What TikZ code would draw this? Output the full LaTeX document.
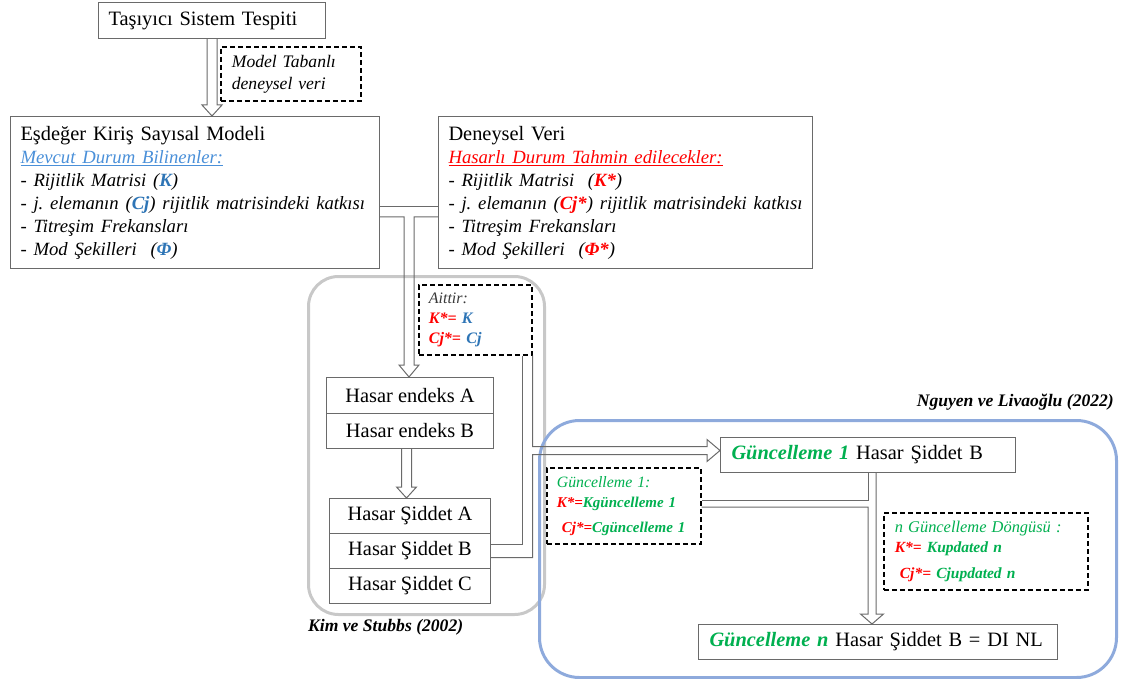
\documentclass[tikz,border=0pt]{standalone}
\usepackage{fontspec}
\setmainfont{Liberation Serif}
\usetikzlibrary{calc}
\frenchspacing

\definecolor{kblue}{HTML}{2E75B6}
\definecolor{hblue}{HTML}{4A90D9}
\definecolor{kred}{HTML}{FF0000}
\definecolor{kgreen}{HTML}{00B050}
\definecolor{edgegray}{HTML}{6A6A6A}
\definecolor{darktext}{HTML}{3A3A3A}
\definecolor{grpgray}{HTML}{C8C8C8}
\definecolor{grpblue}{HTML}{8EAADC}

\newcommand{\fsz}[2]{\fontsize{#1}{#2}\selectfont}
\newcommand{\bluebf}[1]{\textbf{\textit{\textcolor{kblue}{#1}}}}
\newcommand{\redbf}[1]{\textbf{\textit{\textcolor{kred}{#1}}}}
\newcommand{\greenbf}[1]{\textbf{\textit{\textcolor{kgreen}{#1}}}}

\tikzset{
  box/.style={draw=edgegray, line width=1pt, fill=white, inner ysep=0pt,
    anchor=north west, align=left, font=\fsz{20.4}{23}},
  note/.style={draw=black, line width=1.7pt, dash pattern=on 5pt off 3pt,
    fill=white, inner ysep=0pt, anchor=north west, align=left},
  pipe/.style={draw=edgegray, line width=1pt},
  grp/.style={line width=3pt, anchor=north west, inner sep=0pt},
  tag/.style={inner sep=0pt, font=\bfseries\itshape\fsz{17.6}{20}}
}

\begin{document}
\begin{tikzpicture}[x=1pt,y=-1pt]
\useasboundingbox (0,0) rectangle (1127,679);

% group frames
\node[grp, draw=grpgray, rounded corners=30pt, minimum width=236, minimum height=338] (kimgrp) at (307,275) {};
\node[grp, draw=grpblue, rounded corners=40pt, minimum width=577, minimum height=257] (nlgrp) at (538,419) {};

% boxes
\node[box, minimum height=36, text width=207, inner xsep=10] (tss) at (98,2) {Taşıyıcı Sistem Tespiti};

\node[note, minimum height=54, text width=118, inner xsep=11, font=\itshape\fsz{17.6}{22}] (model) at (220,46) {Model Tabanlı\\deneysel veri};

\node[box, minimum height=152, text width=349, inner xsep=10] (esd) at (10,116) {%
  \fsz{20.4}{23}Eşdeğer Kiriş Sayısal Modeli\\
  \fsz{18.7}{23}\textcolor{hblue}{\itshape\underline{Mevcut Durum Bilinenler:}}\\
  \textit{- Rijitlik Matrisi (\bluebf{K})}\\
  \mbox{\textit{- j. elemanın (\bluebf{Cj}) rijitlik matrisindeki katkısı}}\\
  \textit{- Titreşim Frekansları}\\
  \textit{- Mod Şekilleri~~(\bluebf{Φ})}};

\node[box, minimum height=152, text width=354, inner xsep=10] (den) at (438,116) {%
  \fsz{20.4}{23}Deneysel Veri\\
  \fsz{18.7}{23}\textcolor{kred}{\itshape\underline{Hasarlı Durum Tahmin edilecekler:}}\\
  \textit{- Rijitlik Matrisi~~(\redbf{K*})}\\
  \mbox{\textit{- j. elemanın (\redbf{Cj*}) rijitlik matrisindeki katkısı}}\\
  \textit{- Titreşim Frekansları}\\
  \textit{- Mod Şekilleri~~(\redbf{Φ*})}};

\node[note, minimum height=70, text width=93, inner xsep=10, font=\fsz{16}{20}] (aittir) at (418,284) {%
  \textcolor{darktext}{\itshape Aittir:}\\
  \redbf{K*=} \bluebf{K}\\
  \redbf{Cj*=} \bluebf{Cj}};

\node[box, minimum width=167, minimum height=36] (endA) at (326,377) {Hasar endeks A};
\node[box, minimum width=167, minimum height=35] (endB) at (326,413) {Hasar endeks B};

\node[box, minimum width=161, minimum height=35] (sidA) at (329,498) {Hasar Şiddet A};
\node[box, minimum width=161, minimum height=35] (sidB) at (329,533) {Hasar Şiddet B};
\node[box, minimum width=161, minimum height=35] (sidC) at (329,568) {Hasar Şiddet C};

\node[box, minimum height=35, text width=273, inner xsep=11] (g1) at (720,437) {\greenbf{Güncelleme 1} Hasar Şiddet B};

\node[note, minimum height=76, text width=134, inner xsep=10, font=\fsz{15}{20}] (g1note) at (546,467) {%
  \textcolor{kgreen}{\itshape\fsz{15.8}{20}Güncelleme 1:}\\
  \redbf{K*=}\greenbf{Kgüncelleme 1}\\[5pt]
  \hspace*{5pt}\redbf{Cj*=}\greenbf{Cgüncelleme 1}};

\node[note, minimum height=77, text width=182, inner xsep=11, font=\fsz{15.5}{20}] (nnote) at (883,512) {%
  \textcolor{kgreen}{\itshape\fsz{16.4}{20}n Güncelleme Döngüsü :}\\
  \redbf{K*=} \greenbf{Kupdated n}\\[6pt]
  \hspace*{5pt}\redbf{Cj*=} \greenbf{Cjupdated n}};

\node[box, minimum height=35, text width=337, inner xsep=11] (gn) at (698,624) {\greenbf{Güncelleme n} Hasar Şiddet B = DI NL};

% group captions
\node[tag, anchor=east] (nltag) at (1114,402) {Nguyen ve Livaoğlu (2022)};
\node[tag, anchor=west] (kimtag) at (308,627) {Kim ve Stubbs (2002)};

% hollow arrow: Taşıyıcı Sistem -> Eşdeğer model
\coordinate (p1tip) at (tss.south |- esd.north);
\draw[pipe] ($(tss.south)+(-5,0)$) -- ($(p1tip)+(-5,-11)$) -- ++(-5,0) -- (p1tip)
  -- ($(p1tip)+(10,-11)$) -- ++(-5,0) -- ($(tss.south)+(5,0)$);

% hollow T: model + experimental data -> damage indices
\coordinate (tj) at ($(esd.north east)+(29,91)$);
\coordinate (p2tip) at (tj |- endA.north);
\draw[pipe] (esd.east |- tj) -- (den.west |- tj);
\draw[pipe] ($(esd.east |- tj)+(0,10)$) -- ($(tj)+(-5,10)$) -- ($(p2tip)+(-5,-12)$) -- ++(-5,0)
  -- (p2tip) -- ($(p2tip)+(10,-12)$) -- ++(-5,0) -- ($(tj)+(5,10)$) -- ($(den.west |- tj)+(0,10)$);

% hollow arrow: damage index -> damage severity
\coordinate (p3s) at ($(endB.south)+(-3.5,0)$);
\coordinate (p3tip) at (p3s |- sidA.north);
\draw[pipe] ($(p3s)+(-5,0)$) -- ($(p3tip)+(-5,-11)$) -- ++(-5,0) -- (p3tip)
  -- ($(p3tip)+(10,-11)$) -- ++(-5,0) -- ($(p3s)+(5,0)$);

% merging pipe: severity B + assignment -> update 1
\coordinate (p4tip) at ($(g1.west)+(0,-4.5)$);
\draw[pipe] ($(sidB.east)+(0,-6.5)$) -- ($(aittir.south east |- sidB.east)+(-10,-6.5)$)
  -- ($(aittir.south east)+(-10,0)$);
\draw[pipe] (aittir.south east) -- ($(aittir.south east |- p4tip)+(0,-4)$) -- ($(p4tip)+(-13,-4)$)
  -- ++(0,-7) -- (p4tip) -- ($(p4tip)+(-13,11)$) -- ++(0,-7)
  -- ($(aittir.south east |- p4tip)+(0,4)$) -- ($(aittir.south east |- sidB.east)+(0,6.5)$)
  -- ($(sidB.east)+(0,6.5)$);

% update loop pipe: update 1 -> update n
\coordinate (p5j) at ($(g1.south)+(4,27)$);
\coordinate (p5tip) at (p5j |- gn.north);
\draw[pipe] (g1.south) -- ($(p5j)+(-4,0)$) -- (g1note.east |- p5j);
\draw[pipe] ($(g1note.east |- p5j)+(0,7)$) -- ($(p5j)+(-4,7)$) -- ($(p5tip)+(-4,-10)$) -- ++(-7.5,0)
  -- (p5tip) -- ($(p5tip)+(11.5,-10)$) -- ++(-7.5,0) -- ($(g1.south)+(8,0)$);
\end{tikzpicture}
\end{document}
